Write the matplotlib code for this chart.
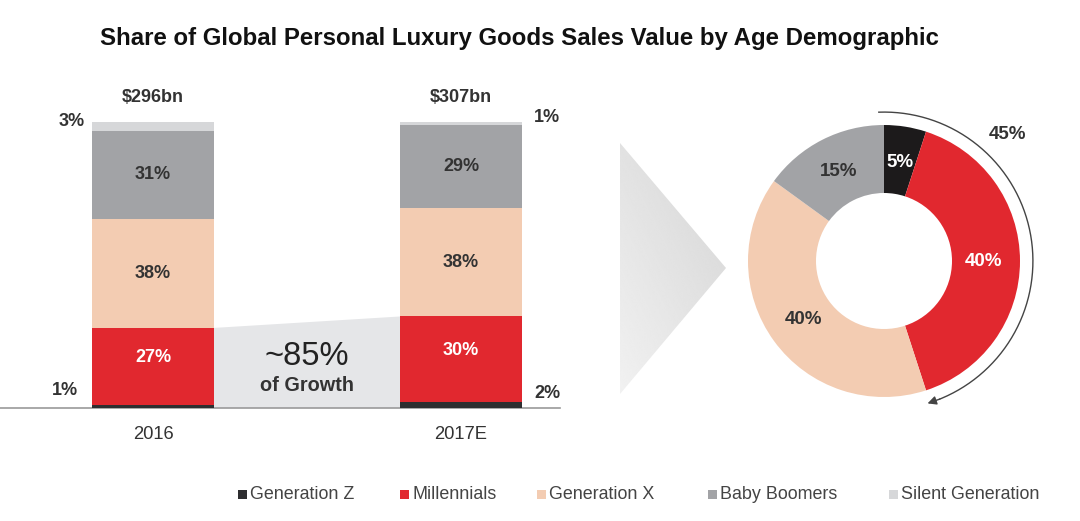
import numpy as np
import matplotlib
matplotlib.use("Agg")
import matplotlib.pyplot as plt
from matplotlib.patches import Polygon, Rectangle

plt.rcParams['font.family'] = ['Liberation Sans', 'DejaVu Sans']

# ---------------- data ----------------
years = ["2016", "2017E"]
totals = ["$296bn", "$307bn"]
series = ["Generation Z", "Millennials", "Generation X", "Baby Boomers", "Silent Generation"]
gen_z = [1, 2]
millennials = [27, 30]
gen_x = [38, 38]
baby_boomers = [31, 29]
silent = [3, 1]
growth_share = [5, 40, 40, 15]          # Gen Z, Millennials, Gen X, Baby Boomers
growth_label = "~85%"
growth_sub = "of Growth"
arc_label = "45%"

colors = ["#2e2e30", "#e1282f", "#f3ccb2", "#a2a3a6", "#d6d7d9"]
donut_colors = ["#1c1a1b", "#e1282f", "#f3ccb2", "#a2a3a6"]
dark = "#333333"
FS = 13

W, H = 1080, 521
fig = plt.figure(figsize=(W / 100, H / 100), dpi=100)

# overlay axes in pixel coords for decorations
ax0 = fig.add_axes([0, 0, 1, 1], zorder=0)
ax0.set_xlim(0, W)
ax0.set_ylim(H, 0)
ax0.axis("off")

# title
ax0.text(519, 38, "Share of Global Personal Luxury Goods Sales Value by Age Demographic",
         ha="center", va="center", fontsize=17.3, fontweight="bold", color="#111111")

# gradient chevron
tri = Polygon([(620, 143), (726, 268), (620, 394)], closed=True, facecolor="none", edgecolor="none")
ax0.add_patch(tri)
gx = np.linspace(0, 1, 256)
gy = np.linspace(0, 1, 128)
GX, GY = np.meshgrid(gx, gy)
grad = 0.945 - 0.05 * GX - 0.06 * (1 - GY)
im = ax0.imshow(grad, extent=(620, 726, 394, 143), cmap="gray", vmin=0, vmax=1,
                aspect="auto", interpolation="bilinear")
im.set_clip_path(tri)
ax0.set_xlim(0, W)
ax0.set_ylim(H, 0)

# legend
leg_x = [240, 402, 539, 710, 891]
for name, c, lx in zip(series, colors, leg_x):
    ax0.add_patch(Rectangle((lx - 2, 489.5), 9, 9, facecolor=c, edgecolor="none"))
    ax0.text(lx + 10, 499, name, ha="left", va="baseline", fontsize=12.9, color="#444444")

# ---------------- stacked bars ----------------
ax1 = fig.add_axes([0, (H - 408) / H, 560 / W, 286 / H], zorder=1)
ax1.patch.set_alpha(0)
x = np.arange(len(years))
bw = 122 / 308
ax1.set_xlim(-153 / 308, (560 - 153) / 308)
ax1.set_ylim(0, 100)

stack = [gen_z, millennials, gen_x, baby_boomers, silent]
bottom = np.zeros(len(years))
for vals, c in zip(stack, colors):
    ax1.bar(x, vals, bw, bottom=bottom, color=c, edgecolor="none", zorder=3)
    bottom += np.array(vals)

# growth band between bars (top of millennials)
mill_top = np.array(gen_z) + np.array(millennials)
bx = [x[0] + bw / 2, x[1] - bw / 2]
ax1.fill_between(bx, [0, 0], mill_top, color="#e5e6e8", edgecolor="none", zorder=2)
ax1.text(0.5, 18.0, growth_label, ha="center", va="center", fontsize=23.5, color="#222222", zorder=4)
ax1.text(0.5, 8.0, growth_sub, ha="center", va="center", fontsize=14.3, fontweight="bold",
         color="#333333", zorder=4)

# inside labels for the big segments
for idx, (vals, bot) in enumerate([(millennials, gen_z), (gen_x, mill_top),
                                   (baby_boomers, mill_top + np.array(gen_x))]):
    col = "white" if idx == 0 else dark
    for i in range(len(years)):
        yc = bot[i] + vals[i] / 2
        if idx == 0:
            yc += 3
        ax1.text(x[i], yc, f"{vals[i]}%", ha="center", va="center", fontsize=FS,
                 fontweight="bold", color=col, zorder=4)

# small segment labels outside
ax1.text(x[0] - bw / 2 - 0.025, 100, f"{silent[0]}%", ha="right", va="center", fontsize=FS,
         fontweight="bold", color=dark)
ax1.text(x[0] - bw / 2 - 0.045, 6, f"{gen_z[0]}%", ha="right", va="center", fontsize=FS,
         fontweight="bold", color=dark)
ax1.text(x[1] + bw / 2 + 0.04, 101.5, f"{silent[1]}%", ha="left", va="center", fontsize=FS,
         fontweight="bold", color=dark, clip_on=False)
ax1.text(x[1] + bw / 2 + 0.04, 5, f"{gen_z[1]}%", ha="left", va="center", fontsize=FS,
         fontweight="bold", color=dark)

# totals
for i in range(len(years)):
    ax1.text(x[i], 108.5, totals[i], ha="center", va="center", fontsize=FS,
             fontweight="bold", color=dark, clip_on=False)

ax1.set_xticks(x)
ax1.set_xticklabels(years, fontsize=13.2, color="#333333")
ax1.tick_params(axis="x", length=0, pad=13)
ax1.set_yticks([])
for s in ["top", "left", "right"]:
    ax1.spines[s].set_visible(False)
ax1.spines["bottom"].set_color("#9a9a9a")
ax1.spines["bottom"].set_linewidth(1.2)

# ---------------- donut ----------------
S = 320
ax2 = fig.add_axes([(884 - S / 2) / W, (H - 261 - S / 2) / H, S / W, S / H], zorder=1)
ax2.patch.set_alpha(0)
lim = S / 2 / 136
wedges, texts = ax2.pie(growth_share, colors=donut_colors, startangle=90, counterclock=False,
                        labels=[f"{v}%" for v in growth_share], labeldistance=0.735,
                        wedgeprops=dict(width=0.5, edgecolor="none"),
                        textprops=dict(fontsize=13.5, fontweight="bold", ha="center", va="center"))
label_cols = ["white", "white", dark, dark]
for t, c in zip(texts, label_cols):
    t.set_color(c)
    t.set_ha("center")
ax2.set_xlim(-lim, lim)
ax2.set_ylim(-lim, lim)
ax2.set_aspect("equal")

# arc arrow spanning Gen Z + Millennials
span = (growth_share[0] + growth_share[1]) / 100 * 360
r = 1.095
th = np.radians(np.linspace(92, 90 - span + 4, 200))
ax2.plot(r * np.cos(th), r * np.sin(th), color="#444444", lw=1.0, clip_on=False)
t_end = np.radians(90 - span - 1)
ax2.annotate("", xy=(r * np.cos(t_end), r * np.sin(t_end)),
             xytext=(r * np.cos(th[-1]), r * np.sin(th[-1])),
             arrowprops=dict(arrowstyle="-|>", color="#444444", lw=1.0, mutation_scale=13,
                             shrinkA=0, shrinkB=0),
             annotation_clip=False)
ax2.text(0.91, 0.93, arc_label, ha="center", va="center", fontsize=13.5, fontweight="bold",
         color=dark)

fig.savefig("out.png", dpi=100)
